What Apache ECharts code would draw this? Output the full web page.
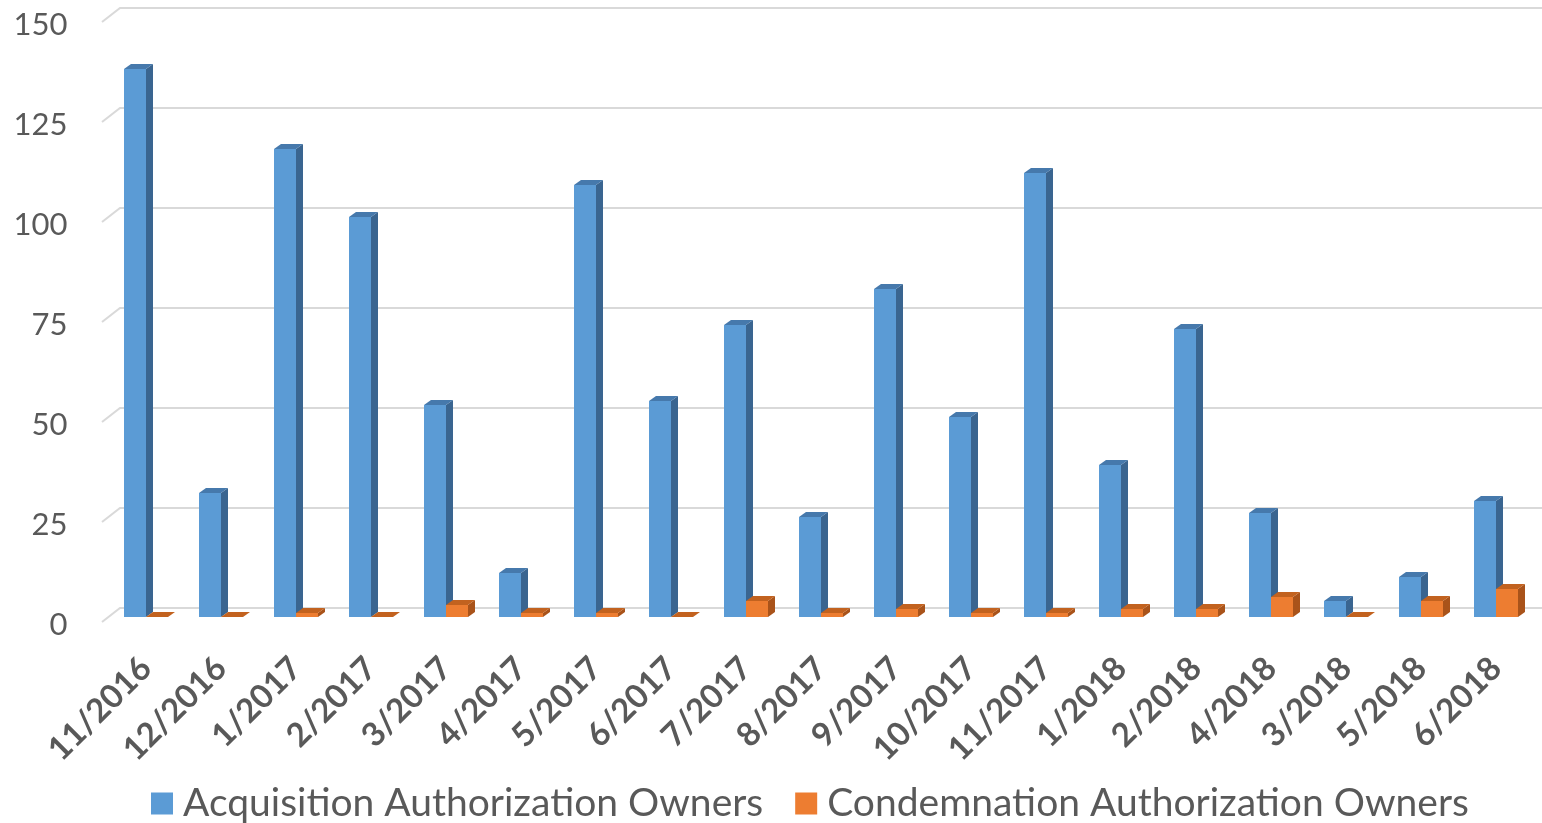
<!DOCTYPE html>
<html>
<head>
<meta charset="utf-8">
<script src="https://cdn.jsdelivr.net/npm/echarts@6/dist/echarts.min.js"></script>
<style>
html,body{margin:0;padding:0;background:#fff;}
#chart{width:1542px;height:823px;}
</style>
</head>
<body>
<div id="chart"></div>
<script>
const categories = ['11/2016','12/2016','1/2017','2/2017','3/2017','4/2017','5/2017','6/2017','7/2017','8/2017','9/2017','10/2017','11/2017','1/2018','2/2018','4/2018','3/2018','5/2018','6/2018'];
const acquisition = [137, 31, 117, 100, 53, 11, 108, 54, 73, 25, 82, 50, 111, 38, 72, 26, 4, 10, 29];
const condemnation = [0, 0, 1, 0, 3, 1, 1, 0, 4, 1, 2, 1, 1, 2, 2, 5, 0, 4, 7];
const yTicks = [0, 25, 50, 75, 100, 125, 150];
const seriesNames = ['Acquisition Authorization Owners', 'Condemnation Authorization Owners'];

const DX = 7, DY = -5;

function barRenderer(side, front, top, sideCol) {
  return function (params, api) {
    const i = api.value(0), v = api.value(1);
    const p = api.coord([i, v]);
    const b = api.coord([i, 0]);
    const band = api.size([1, 0])[0];
    const w = band * 22 / 75;
    const x0 = side === 0 ? p[0] - w : p[0];
    const x1 = x0 + w;
    const yt = p[1], yb = b[1];
    return {
      type: 'group',
      children: [
        { type: 'polygon', shape: { points: [[x1, yb], [x1 + DX, yb + DY], [x1 + DX, yt + DY], [x1, yt]] }, style: { fill: sideCol } },
        { type: 'polygon', shape: { points: [[x0, yt], [x0 + DX, yt + DY], [x1 + DX, yt + DY], [x1, yt]] }, style: { fill: top } },
        { type: 'rect', shape: { x: x0, y: yt, width: w, height: yb - yt }, style: { fill: front } }
      ]
    };
  };
}

function gridRenderer(params, api) {
  const v = api.value(1);
  const y = api.coord([0, v])[1];
  const cs = params.coordSys;
  const xl = cs.x - 6.5, xb = cs.x + 11.5;
  return {
    type: 'polyline',
    shape: { points: [[xl, y + 5], [xb, y - 9], [1542, y - 9]] },
    style: { stroke: '#d9d9d9', lineWidth: 2, fill: null }
  };
}

const chart = echarts.init(document.getElementById('chart'));
chart.setOption({
  animation: false,
  backgroundColor: '#ffffff',
  color: ['#5B9BD5', '#ED7D31'],
  grid: { left: 108.5, right: 8.5, top: 17, bottom: 206, containLabel: false },
  legend: {
    top: 779,
    left: 146,
    itemWidth: 22,
    itemHeight: 22,
    itemGap: 32,
    icon: 'rect',
    textStyle: { fontFamily: 'Lato', fontSize: 39, color: '#595959', padding: [0, 0, 0, 5] },
    data: seriesNames
  },
  xAxis: {
    type: 'category',
    data: categories,
    axisLine: { show: false },
    axisTick: { show: false },
    axisLabel: {
      interval: 0,
      rotate: 45,
      margin: 46,
      fontFamily: 'Lato',
      fontWeight: 'bold',
      fontSize: 33,
      color: '#595959'
    }
  },
  yAxis: {
    type: 'value',
    min: 0,
    max: 150,
    interval: 25,
    axisLine: { show: false },
    axisTick: { show: false },
    splitLine: { show: false },
    axisLabel: {
      margin: 41,
      fontFamily: 'Lato',
      fontSize: 31,
      color: '#595959',
      verticalAlign: 'top',
      lineHeight: 16
    }
  },
  series: [
    {
      type: 'custom',
      name: 'grid',
      silent: true,
      z: 0,
      renderItem: gridRenderer,
      data: yTicks.map(v => [0, v]),
      encode: { x: 0, y: 1 }
    },
    {
      type: 'custom',
      name: seriesNames[0],
      z: 2,
      itemStyle: { color: '#5B9BD5' },
      renderItem: barRenderer(0, '#5B9BD5', '#4679AC', '#3A6590'),
      data: acquisition.map((v, i) => [i, v]),
      encode: { x: 0, y: 1 }
    },
    {
      type: 'custom',
      name: seriesNames[1],
      z: 3,
      itemStyle: { color: '#ED7D31' },
      renderItem: barRenderer(1, '#ED7D31', '#C2621F', '#A9531A'),
      data: condemnation.map((v, i) => [i, v]),
      encode: { x: 0, y: 1 }
    }
  ]
});
</script>
</body>
</html>
